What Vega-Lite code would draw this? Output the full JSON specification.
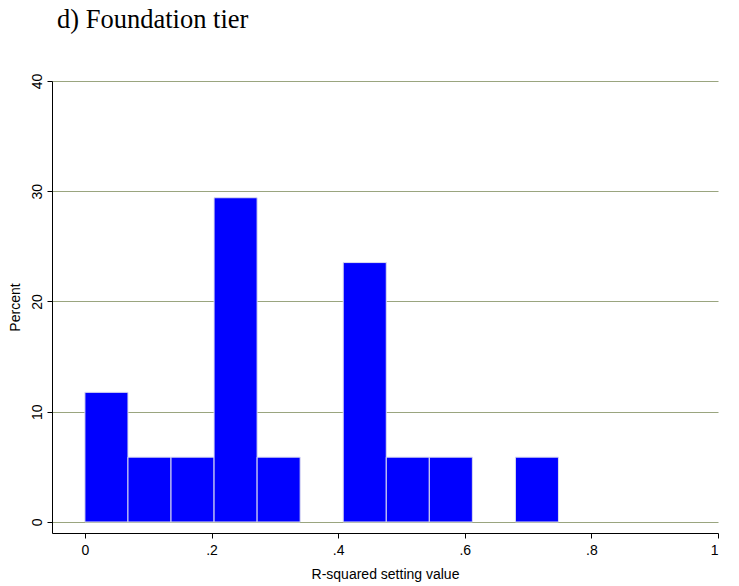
{
  "$schema": "https://vega.github.io/schema/vega-lite/v6.json",
  "width": 666,
  "height": 452,
  "autosize": {"type": "none"},
  "padding": {"left": 52, "top": 81, "right": 21, "bottom": 53},
  "background": "white",
  "title": {
    "text": "d) Foundation tier",
    "font": "Liberation Serif",
    "fontSize": 26.5,
    "fontWeight": "normal",
    "color": "black",
    "anchor": "start",
    "frame": "group",
    "dx": 5,
    "offset": 40
  },
  "data": {
    "values": [
      {"bin_start": 0.000, "bin_end": 0.068, "percent": 11.76},
      {"bin_start": 0.068, "bin_end": 0.136, "percent": 5.88},
      {"bin_start": 0.136, "bin_end": 0.204, "percent": 5.88},
      {"bin_start": 0.204, "bin_end": 0.272, "percent": 29.41},
      {"bin_start": 0.272, "bin_end": 0.340, "percent": 5.88},
      {"bin_start": 0.408, "bin_end": 0.476, "percent": 23.53},
      {"bin_start": 0.476, "bin_end": 0.544, "percent": 5.88},
      {"bin_start": 0.544, "bin_end": 0.612, "percent": 5.88},
      {"bin_start": 0.680, "bin_end": 0.748, "percent": 5.88}
    ]
  },
  "config": {
    "view": {"stroke": null},
    "axis": {
      "labelFont": "Liberation Sans",
      "titleFont": "Liberation Sans",
      "labelFontSize": 14,
      "titleFontSize": 14,
      "titleFontWeight": "normal",
      "labelColor": "black",
      "titleColor": "black",
      "domainColor": "black",
      "tickColor": "black"
    }
  },
  "mark": {"type": "bar", "color": "#0000ff", "stroke": "#dcdcf0", "strokeWidth": 1},
  "encoding": {
    "x": {
      "field": "bin_start",
      "type": "quantitative",
      "scale": {"domain": [-0.052, 1.0], "nice": false, "zero": false},
      "axis": {
        "values": [0, 0.2, 0.4, 0.6, 0.8, 1],
        "labelExpr": "datum.value == 0 ? '0' : datum.value == 1 ? '1' : replace(format(datum.value, '.1f'), '0.', '.')",
        "title": "R-squared setting value",
        "grid": false,
        "tickSize": 5,
        "labelPadding": 5,
        "titlePadding": 10
      }
    },
    "x2": {"field": "bin_end"},
    "y": {
      "field": "percent",
      "type": "quantitative",
      "scale": {"domain": [-1, 40], "nice": false, "zero": false},
      "axis": {
        "values": [0, 10, 20, 30, 40],
        "title": "Percent",
        "grid": true,
        "gridColor": "#9aa57f",
        "gridWidth": 1,
        "gridOpacity": 1,
        "labelAngle": 270,
        "labelAlign": "center",
        "labelBaseline": "bottom",
        "tickSize": 5,
        "labelPadding": 3,
        "titlePadding": 8
      }
    },
    "y2": {"datum": 0}
  }
}
